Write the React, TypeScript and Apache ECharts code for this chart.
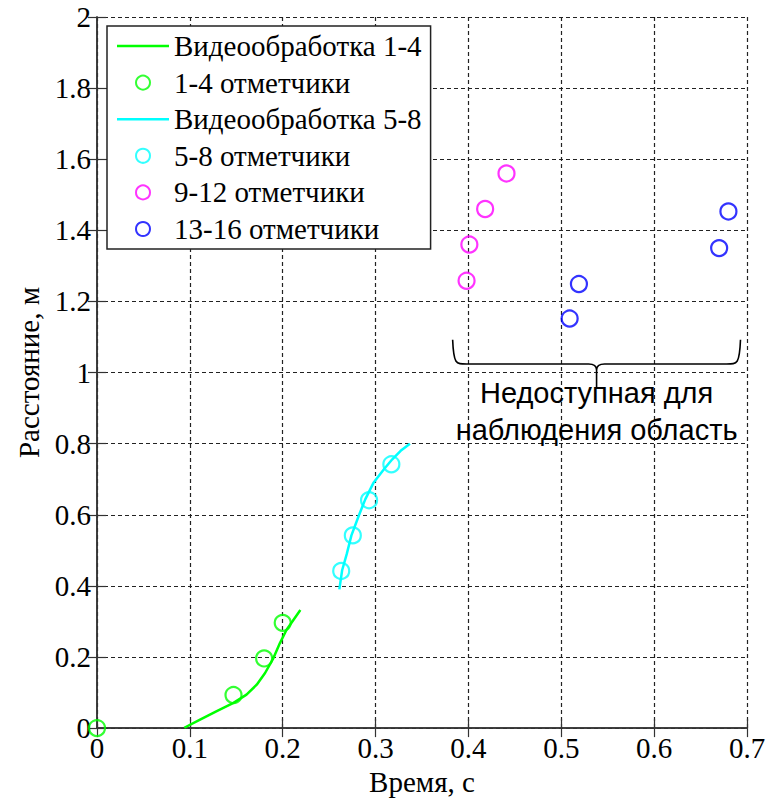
import React, { useEffect, useRef } from "react";
import * as echarts from "echarts";

// ---- data ----
const video14: [number, number][] = [
  [0.094, 0.001], [0.111, 0.024], [0.129, 0.048], [0.147, 0.071], [0.161, 0.094],
  [0.172, 0.122], [0.181, 0.155], [0.19, 0.197], [0.197, 0.239], [0.204, 0.276], [0.219, 0.332],
];
const marks14: [number, number][] = [[0, 0], [0.147, 0.093], [0.18, 0.196], [0.2, 0.296]];
const video58: [number, number][] = [
  [0.261, 0.39], [0.264, 0.444], [0.269, 0.49], [0.274, 0.542], [0.282, 0.598], [0.289, 0.644],
  [0.298, 0.691], [0.309, 0.728], [0.318, 0.756], [0.327, 0.78], [0.337, 0.8],
];
const marks58: [number, number][] = [[0.263, 0.442], [0.2755, 0.542], [0.293, 0.641], [0.317, 0.742]];
const marks912: [number, number][] = [[0.398, 1.258], [0.401, 1.36], [0.418, 1.46], [0.441, 1.56]];
const marks1316: [number, number][] = [[0.509, 1.152], [0.519, 1.249], [0.67, 1.35], [0.68, 1.453]];

const seriesNames = [
  "Видеообработка 1-4",
  "1-4 отметчики",
  "Видеообработка 5-8",
  "5-8 отметчики",
  "9-12 отметчики",
  "13-16 отметчики",
];
const xTicks = { min: 0, max: 0.7, interval: 0.1 };
const yTicks = { min: 0, max: 2, interval: 0.2 };
// brace annotation: [left x, right x, top y, middle y, tip y]
const braceSpan: number[] = [0.383, 0.693, 1.092, 1.024, 0.957];
const braceText = "Недоступная для\nнаблюдения область";

const SERIF = "'Times New Roman', 'Liberation Serif', serif";
const FS = 29;
const FRAME = "#333";
const LINE_ICON = "path://M0,0L52,0L52,2.6L0,2.6Z";

export default function App() {
  const ref = useRef<HTMLDivElement>(null);
  useEffect(() => {
    document.body.style.margin = "0";
    const chart = echarts.init(ref.current!, null, { renderer: "svg" });
    const axisCommon = {
      type: "value" as const,
      axisLine: { show: true, lineStyle: { color: FRAME, width: 1.5 } },
      axisTick: { show: true, inside: true, length: 9, lineStyle: { color: FRAME, width: 1.2 } },
    };
    const scatter = (name: string, data: [number, number][], color: string) => ({
      name,
      type: "scatter",
      data,
      symbol: "circle",
      symbolSize: 16,
      itemStyle: { color: "rgba(0,0,0,0)", borderColor: color, borderWidth: 2.2 },
      z: 4,
    });
    const line = (name: string, data: [number, number][], color: string) => ({
      name,
      type: "line",
      data,
      symbol: "none",
      color,
      lineStyle: { color, width: 2.5 },
      z: 3,
    });
    chart.setOption({
      animation: false,
      backgroundColor: "#fff",
      grid: { left: 97, right: 27, top: 17, bottom: 69 },
      legend: {
        left: 107,
        top: 26,
        orient: "vertical",
        itemWidth: 52,
        itemHeight: 14,
        itemGap: 7.6,
        padding: [5.5, 9, 5.5, 10],
        borderColor: "#222",
        borderWidth: 1.5,
        backgroundColor: "#fff",
        textStyle: { fontFamily: SERIF, fontSize: FS, color: "#000", lineHeight: FS },
        data: seriesNames.map((n, i) => (i === 0 || i === 2 ? { name: n, icon: LINE_ICON } : { name: n })),
        z: 10,
      },
      xAxis: [
        {
          ...axisCommon,
          ...xTicks,
          position: "bottom",
          name: "Время, с",
          nameLocation: "middle",
          nameGap: 35,
          nameTextStyle: { fontFamily: SERIF, fontSize: FS, color: "#000" },
          axisLabel: { fontFamily: SERIF, fontSize: FS, color: "#000", margin: 5 },
          splitLine: { show: true, lineStyle: { color: "#222", type: [4, 3], width: 1.2 } },
        },
        {
          ...axisCommon,
          ...xTicks,
          position: "top",
          axisLabel: { show: false },
          splitLine: { show: false },
        },
      ],
      yAxis: [
        {
          ...axisCommon,
          ...yTicks,
          position: "left",
          name: "Расстояние, м",
          nameLocation: "middle",
          nameGap: 52,
          nameTextStyle: { fontFamily: SERIF, fontSize: FS, color: "#000" },
          axisLabel: { fontFamily: SERIF, fontSize: FS, color: "#000", margin: 6 },
          splitLine: { show: true, lineStyle: { color: "#222", type: [4, 3], width: 1.2 } },
        },
        {
          ...axisCommon,
          ...yTicks,
          position: "right",
          axisLabel: { show: false },
          splitLine: { show: false },
        },
      ],
      series: [
        line(seriesNames[0], video14, "#00ff00"),
        scatter(seriesNames[1], marks14, "#00ff00"),
        line(seriesNames[2], video58, "#00ffff"),
        scatter(seriesNames[3], marks58, "#00ffff"),
        scatter(seriesNames[4], marks912, "#ff00ff"),
        scatter(seriesNames[5], marks1316, "#0000ff"),
        {
          type: "custom",
          name: "brace",
          silent: true,
          clip: false,
          z: 5,
          data: [braceSpan],
          encode: { x: [0, 1], y: [2, 3, 4] },
          renderItem: (_params: any, api: any) => {
            const lt = api.coord([api.value(0), api.value(2)]);
            const rt = api.coord([api.value(1), api.value(2)]);
            const mid = api.coord([(api.value(0) + api.value(1)) / 2, api.value(3)]);
            const tip = api.coord([(api.value(0) + api.value(1)) / 2, api.value(4)]);
            const L = lt[0], R = rt[0], T = lt[1], M = mid[1], C = mid[0], P = tip[1];
            const d =
              `M${L},${T} C${L + 1},${M} ${L + 3},${M} ${L + 14},${M} ` +
              `L${C - 8},${M} Q${C},${M} ${C},${M + 6} L${C},${P} ` +
              `M${C},${M + 6} Q${C},${M} ${C + 8},${M} L${R - 14},${M} ` +
              `C${R - 3},${M} ${R - 1},${M} ${R},${T}`;
            return {
              type: "group",
              children: [
                {
                  type: "path",
                  shape: { pathData: d },
                  style: { stroke: "#000", fill: "none", lineWidth: 1.6 },
                },
                {
                  type: "text",
                  x: C,
                  y: P - 13,
                  style: {
                    text: braceText,
                    font: "29px Liberation Sans, Arial, sans-serif",
                    fill: "#000",
                    align: "center",
                    verticalAlign: "top",
                    lineHeight: 37,
                  },
                },
              ],
            };
          },
        },
      ],
    });
    return () => chart.dispose();
  }, []);
  return (
    <div
      ref={ref}
      style={{ position: "absolute", left: 0, top: 0, width: 774, height: 801 }}
    />
  );
}
